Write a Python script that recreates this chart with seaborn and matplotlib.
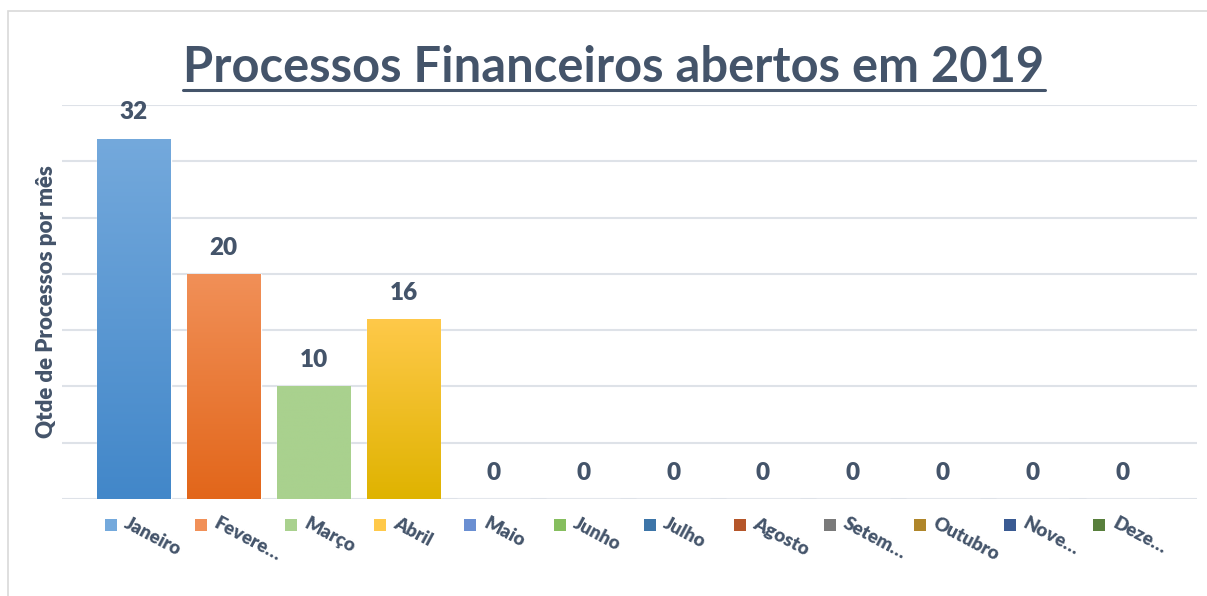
import matplotlib
matplotlib.use('Agg')
import matplotlib.pyplot as plt
import matplotlib.patches as mpatches
import matplotlib.colors as mcolors
from matplotlib.lines import Line2D
import seaborn as sns
import numpy as np

# data
months = ['Janeiro', 'Fevereiro', 'Março', 'Abril', 'Maio', 'Junho',
          'Julho', 'Agosto', 'Setembro', 'Outubro', 'Novembro', 'Dezembro']
tick_labels = ['Janeiro', 'Fevere…', 'Março', 'Abril', 'Maio', 'Junho',
               'Julho', 'Agosto', 'Setem…', 'Outubro', 'Nove…', 'Deze…']
values = [32, 20, 10, 16, 0, 0, 0, 0, 0, 0, 0, 0]

# office-like palette, top and bottom shade of each bar gradient
top_colors = ['#74A9DC', '#F19058', '#A9D18E', '#FFC94A', '#6A8FD2', '#86BE5E',
              '#3D75A8', '#B5562A', '#7A7A7A', '#AF862A', '#3A5A92', '#587F3C']
bottom_colors = ['#4287C9', '#E2661A', '#A9D18E', '#DFB300', '#3363BA', '#5E9A38',
                 '#1E5184', '#8E3E08', '#555555', '#866400', '#1F3A6A', '#385A22']
text_color = '#44546A'
grid_color = '#DEE2E8'

sns.set_style('white')
plt.rcParams['font.family'] = ['Lato', 'DejaVu Sans']

W, H = 1207, 596
fig = plt.figure(figsize=(W / 100, H / 100), dpi=100)
ax = fig.add_axes([62 / W, 97 / H, (1197 - 62) / W, (499 - 105) / H])

sns.barplot(x=months, y=values, hue=months, palette=bottom_colors,
            legend=False, width=0.82, ax=ax, saturation=1)

# vertical gradient on each bar
for i, patch in enumerate(ax.patches):
    h = patch.get_height()
    if h <= 0:
        continue
    x0 = patch.get_x()
    w = patch.get_width()
    cmap = mcolors.LinearSegmentedColormap.from_list(
        'g', [bottom_colors[i], top_colors[i]])
    grad = np.linspace(0, 1, 256).reshape(-1, 1)
    im = ax.imshow(grad, cmap=cmap, origin='lower', aspect='auto',
                   extent=[x0, x0 + w, 0, h], zorder=patch.get_zorder() + 0.1)
    im.set_clip_path(patch)

for c in ax.containers:
    ax.bar_label(c, padding=11, fontsize=17.5, fontweight='heavy', color=text_color)

ax.set_xlim(-0.8, 11.83)
ax.set_ylim(0, 35)
ax.set_yticks(np.arange(0, 36, 5))
ax.set_yticklabels([])
ax.tick_params(left=False, bottom=False)
ax.set_xticks(range(12))
ax.set_xticklabels([])
ax.grid(axis='y', color=grid_color, lw=1.5)
ax.set_axisbelow(True)
sns.despine(ax=ax, left=True, bottom=True, top=True, right=True)

ax.set_ylabel('Qtde de Processos por mês', fontsize=16, fontweight='heavy',
              color=text_color)
ax.yaxis.set_label_coords(-0.004, 0.5)

# category labels with little coloured squares
trans = ax.get_xaxis_transform()
for i, lab in enumerate(tick_labels):
    ax.scatter(i - 0.256, -0.066, marker='s', s=80, color=top_colors[i],
               transform=trans, clip_on=False, zorder=5, linewidths=0)
    ax.text(i - 0.05, -0.04, lab, transform=trans, rotation=-28,
            rotation_mode='anchor', ha='left', va='top', fontsize=13.5,
            fontweight='heavy', color=text_color)

# title with underline
title = fig.text(614 / W, (H - 82) / H, 'Processos Financeiros abertos em 2019',
                 ha='center', va='baseline', fontsize=35.2, fontweight='bold',
                 color=text_color)
fig.canvas.draw()
bb = title.get_window_extent()
fig.add_artist(Line2D([bb.x0 / W, bb.x1 / W], [(H - 90) / H, (H - 90) / H],
                      color=text_color, lw=2.2))

# chart area border
fig.add_artist(mpatches.Rectangle((8 / W, -0.1), 1.2, (H - 11) / H + 0.1,
                                  transform=fig.transFigure, fill=False,
                                  edgecolor='#D9D9D9', lw=1.2))

fig.savefig('out.png', dpi=100)
